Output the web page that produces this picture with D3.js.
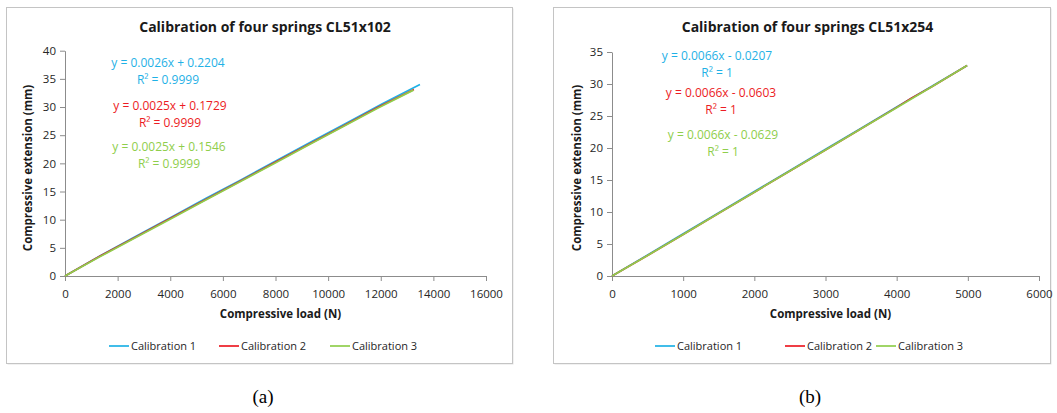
<!DOCTYPE html>
<html>
<head>
<meta charset="utf-8">
<script src="https://cdn.jsdelivr.net/npm/d3@7"></script>
<style>
  body { margin: 0; background: #fff; }
  text { font-family: "Open Sans", "Noto Sans", sans-serif; }
</style>
</head>
<body>
<svg id="vis" width="1057" height="413"></svg>
<script>
// ---- data ----
var seriesNames = ['Calibration 1', 'Calibration 2', 'Calibration 3']
var colors = ['#1fb1e6', '#ec1c24', '#8fce4c']

// panel (a) CL51x102
var loadA1 = [0, 1340, 2680, 4020, 5360, 6700, 8040, 9380, 10720, 12060, 13490]
var extA1  = [0, 3.6, 7.0, 10.4, 13.8, 17.1, 20.5, 23.9, 27.2, 30.6, 34.0]
var loadA2 = [0, 1320, 2640, 3960, 5280, 6600, 7920, 9240, 10560, 11880, 13260]
var extA2  = [0, 3.5, 6.8, 10.1, 13.4, 16.7, 20.0, 23.3, 26.6, 29.9, 33.1]
var loadA3 = [0, 1320, 2640, 3960, 5280, 6600, 7920, 9240, 10560, 11880, 13240]
var extA3  = [0, 3.4, 6.7, 10.0, 13.3, 16.6, 19.9, 23.2, 26.5, 29.8, 33.0]
var eqA = ['y = 0.0026x + 0.2204', 'y = 0.0025x + 0.1729', 'y = 0.0025x + 0.1546']
var r2A = ['R² = 0.9999', 'R² = 0.9999', 'R² = 0.9999']
var xTicksA = [0, 2000, 4000, 6000, 8000, 10000, 12000, 14000, 16000]
var yTicksA = [0, 5, 10, 15, 20, 25, 30, 35, 40]

// panel (b) CL51x254
var loadB1 = [0, 500, 1000, 1500, 2000, 2500, 3000, 3500, 4000, 4500, 4990]
var extB1  = [0, 3.3, 6.6, 9.9, 13.2, 16.5, 19.8, 23.1, 26.4, 29.7, 32.9]
var loadB2 = [0, 500, 1000, 1500, 2000, 2500, 3000, 3500, 4000, 4200, 4500, 4990]
var extB2  = [0, 3.2, 6.5, 9.8, 13.1, 16.4, 19.7, 23.0, 26.35, 27.75, 29.6, 32.9]
var loadB3 = [0, 500, 1000, 1500, 2000, 2500, 3000, 3500, 4000, 4500, 4990]
var extB3  = [0, 3.2, 6.5, 9.8, 13.1, 16.4, 19.7, 23.0, 26.3, 29.6, 32.9]
var eqB = ['y = 0.0066x - 0.0207', 'y = 0.0066x - 0.0603', 'y = 0.0066x - 0.0629']
var r2B = ['R² = 1', 'R² = 1', 'R² = 1']
var xTicksB = [0, 1000, 2000, 3000, 4000, 5000, 6000]
var yTicksB = [0, 5, 10, 15, 20, 25, 30, 35]

var svg = d3.select('#vis')

var panels = [
  { box: [6, 7, 512, 363], title: 'Calibration of four springs CL51x102', caption: '(a)', capX: 263,
    xr: [65, 486], yr: [276, 50.7], xmax: 16000, ymax: 40, xt: xTicksA, yt: yTicksA,
    loads: [loadA1, loadA2, loadA3], exts: [extA1, extA2, extA3], eq: eqA, r2: r2A,
    eqX: [168, 170, 169], eqY: [63, 106, 147], legX: [109, 219, 330], ylabX: 28 },
  { box: [553, 7, 1050, 363], title: 'Calibration of four springs CL51x254', caption: '(b)', capX: 810,
    xr: [612, 1039], yr: [276, 52], xmax: 6000, ymax: 35, xt: xTicksB, yt: yTicksB,
    loads: [loadB1, loadB2, loadB3], exts: [extB1, extB2, extB3], eq: eqB, r2: r2B,
    eqX: [717, 721, 723], eqY: [56, 93, 135], legX: [655, 785, 876], ylabX: 577 }
]

panels.forEach(p => {
  var g = svg.append('g')
  g.append('rect')
    .attr('x', p.box[0] + 1.5).attr('y', p.box[1] + 1.5)
    .attr('width', p.box[2] - p.box[0]).attr('height', p.box[3] - p.box[1])
    .attr('fill', '#e4e4e4')
  g.append('rect')
    .attr('x', p.box[0] + 0.5).attr('y', p.box[1] + 0.5)
    .attr('width', p.box[2] - p.box[0]).attr('height', p.box[3] - p.box[1])
    .attr('fill', '#fff').attr('stroke', '#c4c4c4')

  var x = d3.scaleLinear().domain([0, p.xmax]).range(p.xr)
  var y = d3.scaleLinear().domain([0, p.ymax]).range(p.yr)

  var xAxis = g.append('g')
    .attr('transform', 'translate(0,' + p.yr[0] + ')')
    .call(d3.axisBottom(x).tickValues(p.xt).tickSize(5).tickSizeOuter(0).tickFormat(d3.format('d')))
  var yAxis = g.append('g')
    .attr('transform', 'translate(' + p.xr[0] + ',0)')
    .call(d3.axisLeft(y).tickValues(p.yt).tickSize(5).tickSizeOuter(0))
  ;[xAxis, yAxis].forEach(a => {
    a.select('.domain').attr('stroke', '#8c8c8c')
    a.selectAll('.tick line').attr('stroke', '#8c8c8c')
    a.selectAll('.tick text').attr('fill', '#262626').style('font-size', '11.5px')
  })
  xAxis.selectAll('.tick text').attr('dy', '1.2em')
  yAxis.selectAll('.tick text').attr('x', -9)

  g.append('text')
    .attr('x', (p.box[0] + p.box[2]) / 2 + 6).attr('y', 32)
    .attr('text-anchor', 'middle').style('font-size', '14px').style('font-weight', 'bold')
    .attr('fill', '#1a1a1a').text(p.title)

  g.append('text')
    .attr('x', (p.xr[0] + p.xr[1]) / 2 + 5).attr('y', 318)
    .attr('text-anchor', 'middle').style('font-size', '11.5px').style('font-weight', 'bold')
    .attr('fill', '#1a1a1a').text('Compressive load (N)')

  g.append('text')
    .attr('transform', 'translate(' + (p.ylabX + 4) + ',168) rotate(-90)')
    .attr('text-anchor', 'middle').style('font-size', '11.5px').style('font-weight', 'bold')
    .attr('fill', '#1a1a1a').text('Compressive extension (mm)')

  var line = d3.line().x(d => x(d[0])).y(d => y(d[1]))
  p.loads.forEach((ld, i) => {
    var pts = ld.map((v, j) => [v, p.exts[i][j]])
    g.append('path').datum(pts)
      .attr('d', line).attr('fill', 'none')
      .attr('stroke', colors[i]).attr('stroke-width', 1.7)
  })

  p.eq.forEach((e, i) => {
    g.append('text').attr('x', p.eqX[i]).attr('y', p.eqY[i] + 4)
      .attr('text-anchor', 'middle').style('font-size', '12px')
      .attr('fill', colors[i]).text(e)
    g.append('text').attr('x', p.eqX[i]).attr('y', p.eqY[i] + 21)
      .attr('text-anchor', 'middle').style('font-size', '12px')
      .attr('fill', colors[i]).text(p.r2[i])
  })

  seriesNames.forEach((n, i) => {
    g.append('line')
      .attr('x1', p.legX[i]).attr('x2', p.legX[i] + 20)
      .attr('y1', 346).attr('y2', 346)
      .attr('stroke', colors[i]).attr('stroke-width', 1.7)
    g.append('text').attr('x', p.legX[i] + 22).attr('y', 350)
      .style('font-size', '11px').attr('fill', '#262626').text(n)
  })

  svg.append('text').attr('x', p.capX).attr('y', 403)
    .attr('text-anchor', 'middle')
    .style('font-family', '"Liberation Serif", "Times New Roman", serif')
    .style('font-size', '19px').attr('fill', '#000').text(p.caption)
})
</script>
</body>
</html>
